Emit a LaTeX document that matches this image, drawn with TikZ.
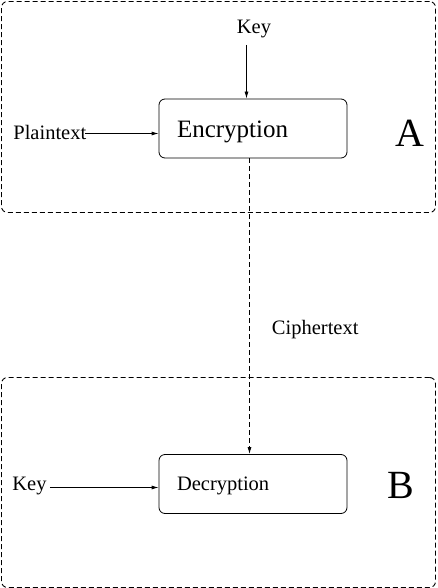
\documentclass[tikz,border=0pt]{standalone}
\usepackage{fontspec}
\setmainfont{Liberation Serif}
\usetikzlibrary{positioning,arrows.meta}

\begin{document}
\begin{tikzpicture}[%
  x=1pt, y=-1pt, >={Latex[length=7pt,width=4pt]}, line width=0.8pt,
  block/.style={rectangle, draw, rounded corners=6pt, minimum width=188pt,
    minimum height=59pt, text width=152pt, inner xsep=18pt, align=left,
    text depth=0pt},
  zone/.style={rectangle, draw, rounded corners=6pt, line width=0.9pt,
    dash pattern=on 5pt off 3pt, minimum width=434pt},
  lbl/.style={font=\fontsize{20.5}{24}\selectfont, inner sep=0pt},]
  \useasboundingbox (0,0) rectangle (437,588);
  % the two sites
  \node[zone, minimum height=211pt] (siteA) at (218.5,107) {};
  \node[zone, minimum height=210pt] (siteB) at (218.5,482.5) {};
  \node[font=\fontsize{40}{44}\selectfont, inner sep=0pt] (nameA) at (410,133) {A};
  \node[font=\fontsize{40}{44}\selectfont, inner sep=0pt] (nameB) at (401,485) {B};
  % blocks
  \node[block, font=\fontsize{25}{28}\selectfont, text height=17.6pt] (enc) at (253,128.5) {Encryption};
  \node[block, font=\fontsize{20.5}{24}\selectfont, text height=13.4pt] (dec) at (253,484) {Decryption};
  % inputs
  \node[lbl] (keyA) at (254,29) {Key};
  \node[coordinate] (keyAout) at (246.5,45) {};
  \draw[->] (keyAout) -- (keyAout |- enc.north);
  \node[lbl, anchor=west] (plain) at (13,132) {Plaintext};
  \node[coordinate] (plainout) at (85,133.5) {};
  \draw[->] (plainout) -- (plainout -| enc.west);
  \node[lbl, anchor=west] (keyB) at (12,486) {Key};
  \node[coordinate, right=3pt of keyB.east] (keyBout) {};
  \draw[->] (keyBout |- 0,487.5) -- (dec.west |- 0,487.5);
  % channel
  \draw[->, line width=0.9pt, dash pattern=on 5pt off 3pt] ([xshift=-3.5pt]enc.south) --
    node[lbl, pos=0.58, right=22pt] (cipher) {Ciphertext} ([xshift=-3.5pt]dec.north);
\end{tikzpicture}
\end{document}
